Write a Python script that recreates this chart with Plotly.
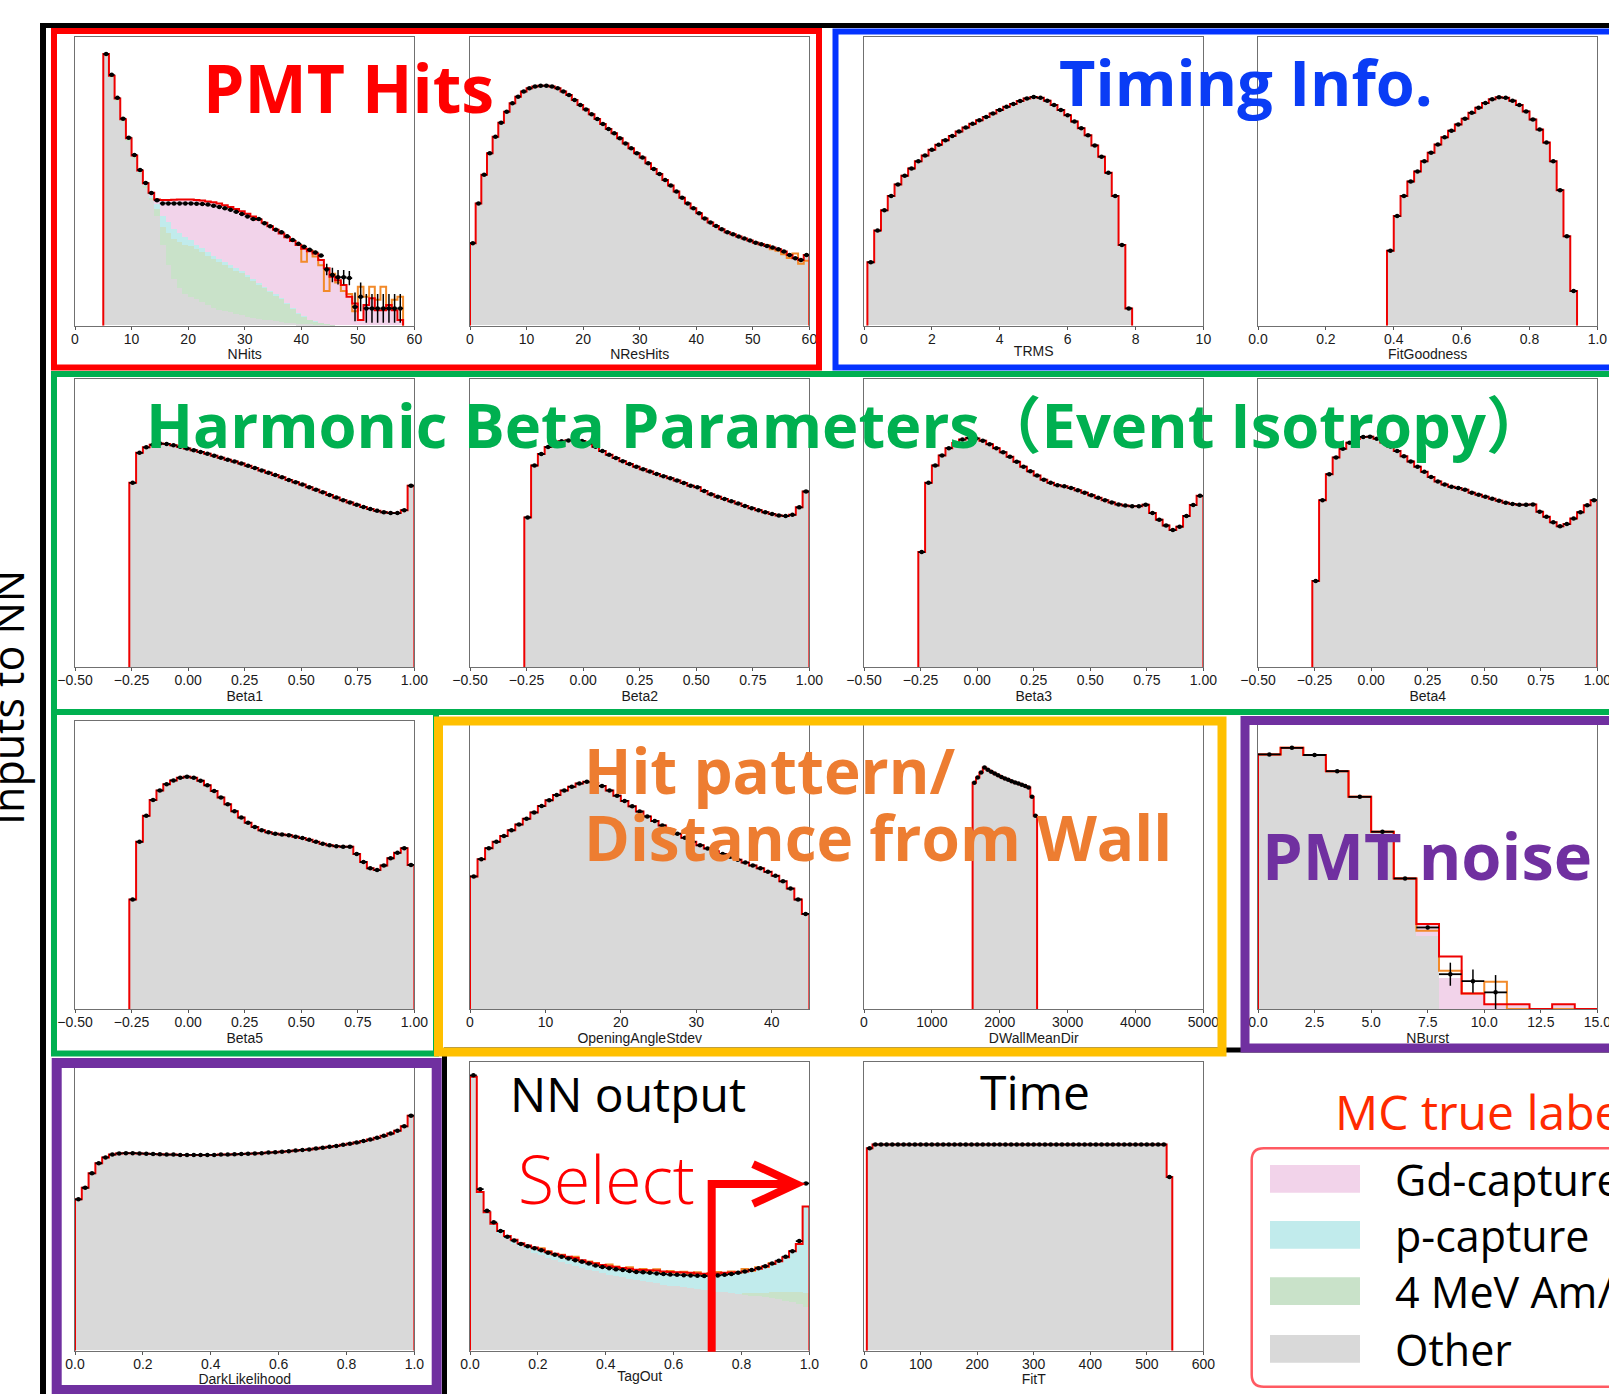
import plotly.graph_objects as go

W, H = 1609, 1394

# ---------------- colours ----------------
GRAY = "#d9d9d9"
PINK = "#f2d3ea"
CYAN = "#c1ebec"
GREEN = "#c9e2c9"
RED = "#ee0000"
ORANGE = "#f28a2a"

# ---------------- data (bar heights in % of each panel's frame height) ----------------
# NHits : bins of width 1 starting at 5
nhits_start, nhits_width = 5, 1
nhits_total = [94.2, 86.7, 78.8, 71.6, 65, 59, 53.8, 49.4, 46.1, 43.8,
               43.6, 43.6, 43.7, 43.8, 43.8, 43.8, 43.6, 43.4, 43.1, 42.8,
               42.4, 41.8, 41.2, 40.5, 39.7, 38.8, 37.9, 36.8, 35.7, 34.5,
               33.3, 32, 30.7, 29.4, 28, 26.7, 25.8, 25, 22.8, 19.9,
               17, 15.8, 14.1, 10, 7.7, 2, 7.2, 9.5, 5.4, 5.4,
               7.2, 5.4, 2]
nhits_other = [93.5, 86, 78, 70.8, 64, 58, 52.5, 47.8, 43.5, 38,
               28, 21, 16, 13, 11, 10, 9, 8, 7, 6,
               5.5, 5, 4.5, 4, 3.5, 3, 2.5, 2.2, 2, 1.8,
               1.5, 1.2, 1, 0.8, 0.6, 0.5, 0.4, 0.3, 0.2, 0.2,
               0.1, 0, 0, 0, 0, 0, 0, 0, 0, 0,
               0, 0, 0]
nhits_ambe = [0.3, 0.3, 0.4, 0.4, 0.5, 0.5, 0.6, 0.7, 1.0, 2.5,
              6, 11, 14, 16, 17, 17.5, 17.5, 17.5, 17, 17,
              16.5, 16, 15.5, 15, 14.5, 14, 13, 12, 11, 10,
              9, 8, 6.5, 5, 3.5, 2.5, 1.5, 1, 0.6, 0.4,
              0.2, 0, 0, 0, 0, 0, 0, 0, 0, 0,
              0, 0, 0]
nhits_pcap = [0.3, 0.3, 0.3, 0.3, 0.3, 0.3, 0.3, 0.3, 0.3, 1.5,
              4, 4, 3.5, 3, 2.5, 2, 1.5, 1.5, 1.3, 1.2,
              1, 1, 0.9, 0.8, 0.7, 0.5, 0.5, 0.4, 0.4, 0.3,
              0.3, 0.3, 0.2, 0.2, 0.2, 0.2, 0.1, 0.1, 0, 0,
              0, 0, 0, 0, 0, 0, 0, 0, 0, 0,
              0, 0, 0]
nhits_gd = [0.1, 0.1, 0.1, 0.1, 0.2, 0.2, 0.4, 0.6, 1.3, 1.8,
            5.6, 7.6, 10.2, 11.8, 13.3, 14.3, 15.6, 16.4, 17.8, 18.6,
            19.4, 19.8, 20.3, 20.7, 21, 21.3, 21.9, 22.2, 22.3, 22.4,
            22.5, 22.5, 23, 23.4, 23.7, 23.5, 23.8, 23.6, 22, 19.3,
            16.7, 15.8, 14.1, 10, 7.7, 2, 7.2, 9.5, 5.4, 5.4,
            7.2, 5.4, 2]
nhits_data = [94.2, 87, 79, 71.8, 65.2, 59.2, 54, 49.5, 46, 43.5,
              42.4, 42.4, 42.4, 42.4, 42.4, 42.4, 42.3, 42.2, 42, 41.6,
              41.2, 40.7, 40.2, 39.5, 38.7, 37.9, 37, 37, 35.5, 34.5,
              33.3, 32.4, 31, 29.7, 28.4, 27.4, 26.3, 25.4, 24.3, 19.5,
              17.6, 16.8, 16.8, 16.5, 6.5, 10, 6, 6, 6, 6,
              6, 6, 6]
nhits_err = [0.4, 0.4, 0.4, 0.4, 0.4, 0.4, 0.4, 0.4, 0.4, 0.4,
             0.4, 0.4, 0.4, 0.4, 0.4, 0.4, 0.4, 0.4, 0.4, 0.4,
             0.5, 0.5, 0.5, 0.5, 0.5, 0.5, 0.5, 0.5, 0.5, 0.5,
             0.6, 0.6, 0.6, 0.6, 0.6, 0.6, 0.6, 0.6, 0.6, 2,
             2.5, 2.5, 2.5, 2.5, 5, 5, 5, 5, 5, 5,
             5, 5, 5]
nhits_orange_start = 39
nhits_orange = [28, 22.2, 26, 24, 21, 12, 18, 15, 12, 11,
                5, 13.5, 10, 13.5, 9, 13.5, 6, 9, 10]

# NResHits : bins of width 1 from 0
nreshits_start, nreshits_width = 0, 1
nreshits = [28.6, 42.4, 52.3, 59.8, 65.5, 70.4, 74.2, 77.1, 79.4, 81.2,
            82.3, 82.9, 83.2, 83.2, 82.9, 82.3, 81.2, 80, 78.3, 76.5,
            75, 73.3, 71.7, 69.9, 68.2, 66.7, 65, 63.2, 61.5, 59.8,
            58.3, 56.3, 54.3, 52.6, 50.5, 48.6, 46.5, 44.4, 42.4, 40.7,
            39, 37.2, 35.8, 34.6, 33.4, 32.4, 31.7, 30.9, 30.2, 29.5,
            28.8, 28.2, 27.6, 27.1, 26.5, 25.7, 24.5, 23.4, 22.8, 24.5]
nreshits_orange_start = 50
nreshits_orange = [28.8, 28.2, 28, 26.5, 26, 24.8, 23.5, 25, 21.5, 22.5]

# TRMS : width 0.2 from 0.1
trms_start, trms_width = 0.1, 0.2
trms = [22, 33, 40, 45, 49, 52, 54.5, 57, 59, 61,
        62.7, 64.3, 65.8, 67.3, 68.7, 70, 71.2, 72.4, 73.6, 74.8,
        75.9, 76.9, 77.9, 78.8, 79.3, 79, 78, 76.5, 74.8, 73,
        70.8, 68.5, 66, 62.5, 58.6, 53, 45, 28, 6]

# FitGoodness : width 0.02 from 0.38
fitg_start, fitg_width = 0.38, 0.02
fitg = [26, 38, 45, 50, 53.5, 57, 60, 62.8, 65.3, 67.6,
        69.8, 71.8, 73.8, 75.6, 77.2, 78.5, 79.2, 79, 78, 76.5,
        74.3, 71.5, 68, 63.5, 57, 47, 31, 12]

# Beta1..Beta5 : width 0.03 from -0.26
beta_start, beta_width = -0.26, 0.03
beta1 = [64, 74.4, 76.3, 77.2, 77.6, 77.5, 77, 76.5, 75.9, 75.3,
         74.7, 74.1, 73.4, 72.7, 72, 71.4, 70.7, 69.9, 69.1, 68.3,
         67.5, 66.7, 65.9, 65, 64.2, 63.4, 62.5, 61.6, 60.7, 59.8,
         58.9, 58, 57.2, 56.4, 55.6, 54.9, 54.3, 53.8, 53.5, 53.5,
         54.5, 63]
beta2 = [52, 70, 74, 76.4, 77.8, 78.4, 78.7, 78.8, 78.5, 77.6,
         76.5, 75, 73.7, 72.6, 71.5, 70.5, 69.6, 68.7, 67.9, 67.1,
         66.3, 65.6, 64.8, 63.9, 63, 62.5, 61.2, 60, 59.2, 58.4,
         57.6, 56.8, 56, 55.2, 54.5, 53.8, 53.2, 52.7, 52.5, 52.9,
         55.5, 61]
beta3 = [40, 64, 70, 73.5, 76, 77.8, 79, 79.6, 79.4, 78.6,
         77.4, 76, 74.6, 73, 71.3, 69.6, 68, 66.5, 65.1, 64,
         63.2, 62.8, 62.2, 61.4, 60.6, 59.7, 58.8, 58, 57.2, 56.5,
         56.1, 55.9, 55.9, 56.4, 53.5, 51.2, 49.2, 47.6, 48.8, 52.5,
         56.3, 59.5]
beta4 = [30, 58, 67, 72.8, 75.8, 77.9, 79.2, 79.9, 80, 79.3,
         78, 76.6, 75, 73.2, 71.4, 69.6, 67.8, 66, 64.5, 63.4,
         62.6, 62.2, 61.6, 60.6, 59.9, 59.2, 58.5, 57.8, 57.1, 56.7,
         56.4, 56.4, 56.5, 54, 52.2, 50.3, 48.9, 49.7, 51.6, 53.8,
         56.2, 58]
beta5 = [38, 58, 67, 72.5, 75.8, 78, 79.3, 80.2, 80.6, 80.2,
         79.2, 77.6, 75.6, 73.4, 71, 68.6, 66.4, 64.6, 63.1, 62,
         61.3, 60.8, 60.5, 60.3, 59.8, 59.3, 58.7, 58, 57.3, 56.8,
         56.5, 56.3, 56.3, 53.8, 51, 48.8, 48.2, 49.8, 52.3, 54.2,
         55.8, 50]

# OpeningAngleStdev : width 1 from 0
oas_start, oas_width = 0, 1
oas = [46, 52, 55.8, 58, 60, 62, 64, 66, 68.2, 70.4,
       72.4, 74.2, 75.8, 77.1, 78.2, 78.8, 78.4, 77.4, 75.8, 74,
       72.2, 70.3, 68.5, 66.8, 65.2, 63.7, 62.2, 60.8, 59.4, 58,
       56.8, 55.7, 54.7, 53.8, 52.8, 51.8, 50.8, 49.8, 48.8, 47.6,
       46.2, 44.3, 41.8, 38, 33]

# DWallMeanDir : width 50 from 1600
dwall_start, dwall_width = 1600, 50
dwall = [78.5, 80.3, 82, 83.8, 83, 82.3, 81.7, 81.1, 80.5, 80,
         79.5, 79, 78.6, 78.2, 77.8, 77.4, 76.8, 73.6, 67]

# NBurst : width 1 from 0
nburst_start, nburst_width = 0, 1
nburst_total = [88.3, 90.6, 88.1, 82.5, 73.6, 61.5, 45.3, 29.5, 18.2, 5.4, 1.7, 1.7, 0, 1.7, 0]
nburst_other = [88.3, 90.6, 88.1, 82.5, 73.6, 61.5, 45.3, 25.5, 0, 0, 0, 0, 0, 0, 0]
nburst_gd = [0, 0, 0, 0, 0, 0, 0, 4, 11, 5, 1.7, 1.7, 0, 1.7, 0]
nburst_orange = [88.3, 90.6, 88.1, 82.5, 73.6, 61.5, 45.3, 27.2, 13.3, 5.4, 9.5, 0, 0, 0, 0]
nburst_data = [88.3, 90.6, 88.1, 82.5, 73.6, 61.5, 45.3, 28.3, 12.1, 9.7, 5.8]
nburst_err = [0.3, 0.3, 0.3, 0.3, 0.3, 0.3, 0.4, 0.6, 4, 4, 6]

# DarkLikelihood : width 0.02 from 0
dark_start, dark_width = 0, 0.02
dark = [52.5, 56.5, 61.5, 65, 67, 68, 68.4, 68.5, 68.5, 68.4,
        68.3, 68.2, 68.1, 68, 68, 67.9, 67.9, 67.9, 67.9, 67.9,
        67.9, 68, 68, 68.1, 68.2, 68.3, 68.4, 68.5, 68.7, 68.8,
        69, 69.2, 69.4, 69.6, 69.8, 70.1, 70.4, 70.7, 71, 71.4,
        71.8, 72.2, 72.7, 73.2, 73.8, 74.5, 75.3, 76.3, 77.8, 81.5]

# TagOut (NN output) : width 0.02 from 0
tag_start, tag_width = 0, 0.02
tag_total = [95, 55, 48, 44, 41.5, 39.8, 38.5, 37.3, 36.5, 35.8,
             35.1, 34.3, 33.6, 33.1, 32.6, 32.1, 31.4, 30.7, 30.2, 29.7,
             29.3, 29, 28.7, 28.4, 28.1, 28, 27.9, 27.8, 27.5, 27.3,
             27.2, 27.1, 27, 26.8, 26.7, 26.6, 26.8, 27, 27.1, 27.2,
             27.5, 28, 28.4, 29.2, 30.1, 31, 32.4, 34.5, 37, 50]
tag_other = [94, 54, 47, 43, 40.5, 38.5, 37, 35.7, 34.7, 33.8,
             33, 32.2, 31.4, 30.7, 30, 29.3, 28.6, 28, 27.4, 26.8,
             26.3, 25.8, 25.3, 24.8, 24.4, 24, 23.6, 23.2, 22.8, 22.5,
             22.2, 21.9, 21.6, 21.3, 21, 20.7, 20.4, 20.1, 19.8, 19.6,
             19.3, 19, 18.7, 18.4, 18.1, 17.7, 17.3, 16.8, 16, 15]
tag_pcap = [1, 1, 1, 1, 1, 1.3, 1.5, 1.6, 1.8, 2,
            2.1, 2.1, 2.2, 2.4, 2.6, 2.8, 2.8, 2.7, 2.8, 2.9,
            3, 3.2, 3.4, 3.6, 3.7, 4, 4.3, 4.6, 4.7, 4.8,
            5, 5.2, 5.4, 5.5, 5.7, 5.9, 6.4, 6.9, 7.3, 7.6,
            7.7, 8.2, 8.5, 9.2, 10, 10.8, 12.1, 14.1, 16.8, 30]
tag_ambe_start = 0.80
tag_ambe = [0.5, 0.8, 1.2, 1.6, 2, 2.5, 3, 3.6, 4.2, 5]
tag_orange_start = 0.20
tag_orange = [35.5, 34.5, 33.4, 33.3, 32.4, 32.6, 31.2, 30.9, 30.4, 29.5,
              29.9, 29.2, 28.5, 28.9, 28, 28.3, 27.6, 28.2, 27.3, 27.6,
              27, 27.4, 26.6, 27.2, 26.5, 26.9, 27.3, 26.7, 27.5, 27.1,
              28.3, 27.7, 28.9, 29, 30.4]
tag_data = [95.5, 56, 48.5, 44.5, 41.5, 39.5, 38.2, 37, 36.2, 35.5,
            34.8, 34, 33.3, 32.6, 32, 31.4, 30.8, 30.2, 29.5, 29,
            28.6, 28.2, 28, 27.6, 27.3, 27.2, 27, 26.8, 26.6, 26.4,
            26.3, 26.2, 26.1, 26, 25.9, 25.9, 26.1, 26.3, 26.6, 27,
            27.5, 28, 28.6, 29.3, 30.2, 31.2, 32.6, 34.5, 38, 58]

# FitT : width 10 from 5
fitt_start, fitt_width = 5, 10
fitt = [70.2,
        71.5, 71.5, 71.5, 71.5, 71.5, 71.5, 71.5, 71.5, 71.5, 71.5,
        71.5, 71.5, 71.5, 71.5, 71.5, 71.5, 71.5, 71.5, 71.5, 71.5,
        71.5, 71.5, 71.5, 71.5, 71.5, 71.5, 71.5, 71.5, 71.5, 71.5,
        71.5, 71.5, 71.5, 71.5, 71.5, 71.5, 71.5, 71.5, 71.5, 71.5,
        71.5, 71.5, 71.5, 71.5, 71.5, 71.5, 71.5, 71.5, 71.5, 71.5,
        71.5, 71.5,
        60.2]

# ---------------- axis tick labels ----------------
ticks_0_60 = [0, 10, 20, 30, 40, 50, 60]
ticks_0_10 = [0, 2, 4, 6, 8, 10]
ticks_unit = [0.0, 0.2, 0.4, 0.6, 0.8, 1.0]
ticks_unit_txt = ["0.0", "0.2", "0.4", "0.6", "0.8", "1.0"]
ticks_beta = [-0.5, -0.25, 0.0, 0.25, 0.5, 0.75, 1.0]
ticks_beta_txt = ["\u22120.50", "\u22120.25", "0.00", "0.25", "0.50", "0.75", "1.00"]
ticks_oas = [0, 10, 20, 30, 40]
ticks_dwall = [0, 1000, 2000, 3000, 4000, 5000]
ticks_nburst = [0.0, 2.5, 5.0, 7.5, 10.0, 12.5, 15.0]
ticks_nburst_txt = ["0.0", "2.5", "5.0", "7.5", "10.0", "12.5", "15.0"]
ticks_fitt = [0, 100, 200, 300, 400, 500, 600]

# ---------------- geometry ----------------
COLX = [75.0, 470.0, 864.0, 1258.0]
ROWY = [37.3, 379.0, 720.7, 1062.3]
PW, PH = 339.4, 288.4

TICKF = "Liberation Sans, Arial, sans-serif"
OVERF = "Open Sans, Noto Sans CJK JP, sans-serif"

fig = go.Figure()


def axn(i):
    return ("x", "y") if i == 1 else (f"x{i}", f"y{i}")


def step_xy(start, width, vals, lead0=True, tail0=True):
    xs, ys = [], []
    if lead0:
        xs.append(start)
        ys.append(0)
    for k, v in enumerate(vals):
        xs.append(start + k * width)
        ys.append(v)
    xs.append(start + len(vals) * width)
    ys.append(0 if tail0 else vals[-1])
    return xs, ys


def add_panel(i, start, width, layers, total, data, err=None, oranges=()):
    xa, ya = axn(i)
    for (ls, vals, col) in layers:
        cx = [ls + width * (k + 0.5) for k in range(len(vals))]
        fig.add_trace(go.Bar(x=cx, y=vals, width=width, marker=dict(color=col, line=dict(width=0)),
                             xaxis=xa, yaxis=ya, hoverinfo="skip"))
    for (os_, ovals, lead0, tail0) in oranges:
        ox, oy = step_xy(os_, width, ovals, lead0, tail0)
        fig.add_trace(go.Scatter(x=ox, y=oy, mode="lines", line=dict(color=ORANGE, width=2, shape="hv"),
                                 xaxis=xa, yaxis=ya, hoverinfo="skip"))
    sx, sy = step_xy(start, width, total)
    fig.add_trace(go.Scatter(x=sx, y=sy, mode="lines", line=dict(color=RED, width=2, shape="hv"),
                             xaxis=xa, yaxis=ya, hoverinfo="skip"))
    dx = [start + width * (k + 0.5) for k in range(len(data))]
    ey = dict(type="data", array=err, color="black", thickness=1.5, width=0) if err else None
    fig.add_trace(go.Scatter(x=dx, y=data, mode="markers",
                             marker=dict(color="black", size=4.5),
                             error_x=dict(type="constant", value=width / 2, color="black", thickness=1.8, width=0),
                             error_y=ey, xaxis=xa, yaxis=ya, hoverinfo="skip"))


# panels
add_panel(1, nhits_start, nhits_width,
          [(nhits_start, nhits_other, GRAY), (nhits_start, nhits_ambe, GREEN),
           (nhits_start, nhits_pcap, CYAN), (nhits_start, nhits_gd, PINK)],
          nhits_total, nhits_data, nhits_err,
          oranges=[(nhits_orange_start, nhits_orange, False, True)])
add_panel(2, nreshits_start, nreshits_width, [(nreshits_start, nreshits, GRAY)], nreshits, nreshits,
          oranges=[(nreshits_orange_start, nreshits_orange, False, True)])
add_panel(3, trms_start, trms_width, [(trms_start, trms, GRAY)], trms, trms)
add_panel(4, fitg_start, fitg_width, [(fitg_start, fitg, GRAY)], fitg, fitg)
add_panel(5, beta_start, beta_width, [(beta_start, beta1, GRAY)], beta1, beta1)
add_panel(6, beta_start, beta_width, [(beta_start, beta2, GRAY)], beta2, beta2)
add_panel(7, beta_start, beta_width, [(beta_start, beta3, GRAY)], beta3, beta3)
add_panel(8, beta_start, beta_width, [(beta_start, beta4, GRAY)], beta4, beta4)
add_panel(9, beta_start, beta_width, [(beta_start, beta5, GRAY)], beta5, beta5)
add_panel(10, oas_start, oas_width, [(oas_start, oas, GRAY)], oas, oas)
add_panel(11, dwall_start, dwall_width, [(dwall_start, dwall, GRAY)], dwall, dwall)
add_panel(12, nburst_start, nburst_width,
          [(nburst_start, nburst_other, GRAY), (nburst_start, nburst_gd, PINK)],
          nburst_total, nburst_data, nburst_err,
          oranges=[(nburst_start, nburst_orange, True, True)])
add_panel(13, dark_start, dark_width, [(dark_start, dark, GRAY)], dark, dark)
add_panel(14, tag_start, tag_width,
          [(tag_start, tag_other, GRAY), (tag_ambe_start, tag_ambe, GREEN), (tag_start, tag_pcap, CYAN)],
          tag_total, tag_data,
          oranges=[(tag_orange_start, tag_orange, False, False)])
add_panel(15, fitt_start, fitt_width, [(fitt_start, fitt, GRAY)], fitt, fitt)

panels = [
    (0, 0, [0, 60], ticks_0_60, [str(t) for t in ticks_0_60], "NHits"),
    (1, 0, [0, 60], ticks_0_60, [str(t) for t in ticks_0_60], "NResHits"),
    (2, 0, [0, 10], ticks_0_10, [str(t) for t in ticks_0_10], "TRMS"),
    (3, 0, [0, 1], ticks_unit, ticks_unit_txt, "FitGoodness"),
    (0, 1, [-0.5, 1], ticks_beta, ticks_beta_txt, "Beta1"),
    (1, 1, [-0.5, 1], ticks_beta, ticks_beta_txt, "Beta2"),
    (2, 1, [-0.5, 1], ticks_beta, ticks_beta_txt, "Beta3"),
    (3, 1, [-0.5, 1], ticks_beta, ticks_beta_txt, "Beta4"),
    (0, 2, [-0.5, 1], ticks_beta, ticks_beta_txt, "Beta5"),
    (1, 2, [0, 45], ticks_oas, [str(t) for t in ticks_oas], "OpeningAngleStdev"),
    (2, 2, [0, 5000], ticks_dwall, [str(t) for t in ticks_dwall], "DWallMeanDir"),
    (3, 2, [0, 15], ticks_nburst, ticks_nburst_txt, "NBurst"),
    (0, 3, [0, 1], ticks_unit, ticks_unit_txt, "DarkLikelihood"),
    (1, 3, [0, 1], ticks_unit, ticks_unit_txt, "TagOut"),
    (2, 3, [0, 600], ticks_fitt, [str(t) for t in ticks_fitt], "FitT"),
]

layout = dict(width=W, height=H, margin=dict(l=0, r=0, t=0, b=0, autoexpand=False),
              paper_bgcolor="white", plot_bgcolor="white", showlegend=False,
              barmode="stack", bargap=0)

for i, (c, r, rng, tv, tt, ttl) in enumerate(panels, start=1):
    x0, y0 = COLX[c], ROWY[r]
    xk = "xaxis" if i == 1 else f"xaxis{i}"
    yk = "yaxis" if i == 1 else f"yaxis{i}"
    xa, ya = axn(i)
    layout[xk] = dict(domain=[x0 / W, (x0 + PW) / W], anchor=ya, range=rng, automargin=False,
                      tickvals=tv, ticktext=tt, ticks="outside", ticklen=3, tickwidth=1, tickcolor="#555",
                      ticklabelstandoff=-3, ticklabeloverflow="allow",
                      showline=True, linecolor="#707070", linewidth=1, mirror=True,
                      showgrid=False, zeroline=False, fixedrange=True,
                      tickfont=dict(family=TICKF, size=14, color="#1a1a1a"),
                      title=dict(text=ttl, font=dict(family=TICKF, size=14, color="#1a1a1a"), standoff=0))
    layout[yk] = dict(domain=[1 - (y0 + PH) / H, 1 - y0 / H], anchor=xa, range=[0, 100], automargin=False,
                      showticklabels=False, ticks="", showline=True, linecolor="#707070", linewidth=1,
                      mirror=True, showgrid=False, zeroline=False, fixedrange=True)

fig.update_layout(**layout)


# ---------------- frames / boxes ----------------
def X(x):
    return x / W


def Y(y):
    return 1 - y / H


def rect(x0, y0, x1, y1, color, width):
    return dict(type="rect", xref="paper", yref="paper", x0=X(x0), x1=X(x1), y0=Y(y1), y1=Y(y0),
                line=dict(color=color, width=width), fillcolor="rgba(0,0,0,0)", layer="above")


def fillrect(x0, y0, x1, y1, color):
    return dict(type="rect", xref="paper", yref="paper", x0=X(x0), x1=X(x1), y0=Y(y1), y1=Y(y0),
                line=dict(width=0), fillcolor=color, layer="above")


def seg(x0, y0, x1, y1, color, width):
    return dict(type="line", xref="paper", yref="paper", x0=X(x0), x1=X(x1), y0=Y(y0), y1=Y(y1),
                line=dict(color=color, width=width), layer="above")


def path(points, color, width, close=False):
    d = "M " + " L ".join(f"{X(px):.5f},{Y(py):.5f}" for px, py in points)
    if close:
        d += " Z"
    return dict(type="path", xref="paper", yref="paper", path=d,
                line=dict(color=color, width=width), layer="above")


shapes = [
    seg(43, 25.5, 1620, 25.5, "black", 5),
    seg(43, 23, 43, 1400, "black", 6),
    seg(444.5, 1055, 444.5, 1400, "black", 5),
    seg(444, 1050, 1620, 1050, "black", 5),
    rect(54, 31, 819, 367.5, "#ff0000", 6),
    rect(835.5, 31.5, 1630, 367.5, "#0433ff", 6),
    rect(54, 374, 1630, 712, "#00b050", 6),
    rect(54, 712, 436, 1053.5, "#00b050", 6),
    rect(438.5, 721, 1222, 1052, "#ffc000", 9),
    rect(1245, 720.5, 1630, 1048, "#7030a0", 9),
    rect(56.7, 1063, 436.7, 1390, "#7030a0", 10),
]

# legend box with rounded left corners
lx0, ly0, ly1, rr = 1251.7, 1148.3, 1386.7, 12
legend_path = (f"M {X(1640):.5f},{Y(ly0):.5f} L {X(lx0 + rr):.5f},{Y(ly0):.5f} "
               f"Q {X(lx0):.5f},{Y(ly0):.5f} {X(lx0):.5f},{Y(ly0 + rr):.5f} "
               f"L {X(lx0):.5f},{Y(ly1 - rr):.5f} "
               f"Q {X(lx0):.5f},{Y(ly1):.5f} {X(lx0 + rr):.5f},{Y(ly1):.5f} "
               f"L {X(1640):.5f},{Y(ly1):.5f}")
shapes.append(dict(type="path", xref="paper", yref="paper", path=legend_path,
                   line=dict(color="#ff5a62", width=2.5), layer="above"))

legend_labels = ["Gd-capture", "p-capture", "4 MeV Am/Be", "Other"]
legend_colors = [PINK, CYAN, GREEN, GRAY]
legend_rows = [1165, 1221, 1277.3, 1335]
for yy, col in zip(legend_rows, legend_colors):
    shapes.append(fillrect(1270, yy, 1360, yy + 27.7, col))

# Select arrow
shapes.append(path([(711.7, 1351.7), (711.7, 1184), (790, 1184)], "#ff0000", 8))
shapes.append(path([(753, 1164), (796, 1184), (753, 1204)], "#ff0000", 8))

fig.update_layout(shapes=shapes)


# ---------------- text ----------------
def ann(text, x, y, size, color, family=OVERF, weight="normal", xanchor="center", angle=0):
    return dict(text=text, x=X(x), y=Y(y), xref="paper", yref="paper", xanchor=xanchor, yanchor="middle",
                showarrow=False, textangle=angle,
                font=dict(family=family, size=size, color=color, weight=weight))


annotations = [
    ann("PMT Hits", 348, 86.7, 66, "#ff0000", weight="bold"),
    ann("Timing Info.", 1246, 81.3, 63, "#0a3cf5", weight="bold"),
    ann("Harmonic Beta Parameters\uff08Event Isotropy\uff09", 847, 424, 61.5, "#00b050", weight="bold"),
    ann("Hit pattern/", 582, 770, 62, "#ed7d31", weight="bold", xanchor="left"),
    ann("Distance from Wall", 582, 837, 62, "#ed7d31", weight="bold", xanchor="left"),
    ann("PMT noise", 1427, 854.7, 65, "#7030a0", weight="bold"),
    ann("NN output", 627.5, 1093.3, 48, "black"),
    ann("Time", 1035, 1091.7, 48, "black"),
    ann("Select", 606, 1178.3, 66, "#ff0000", weight=300),
    ann("MC true label", 1333, 1111, 48, "#ff2a00", xanchor="left"),
    ann("Inputs to NN", 7, 698, 43, "black", angle=-90),
]
for yy, lab in zip(legend_rows, legend_labels):
    annotations.append(ann(lab, 1393, yy + 14, 43, "black", xanchor="left"))

fig.update_layout(annotations=annotations)

fig.write_html("out.html")
